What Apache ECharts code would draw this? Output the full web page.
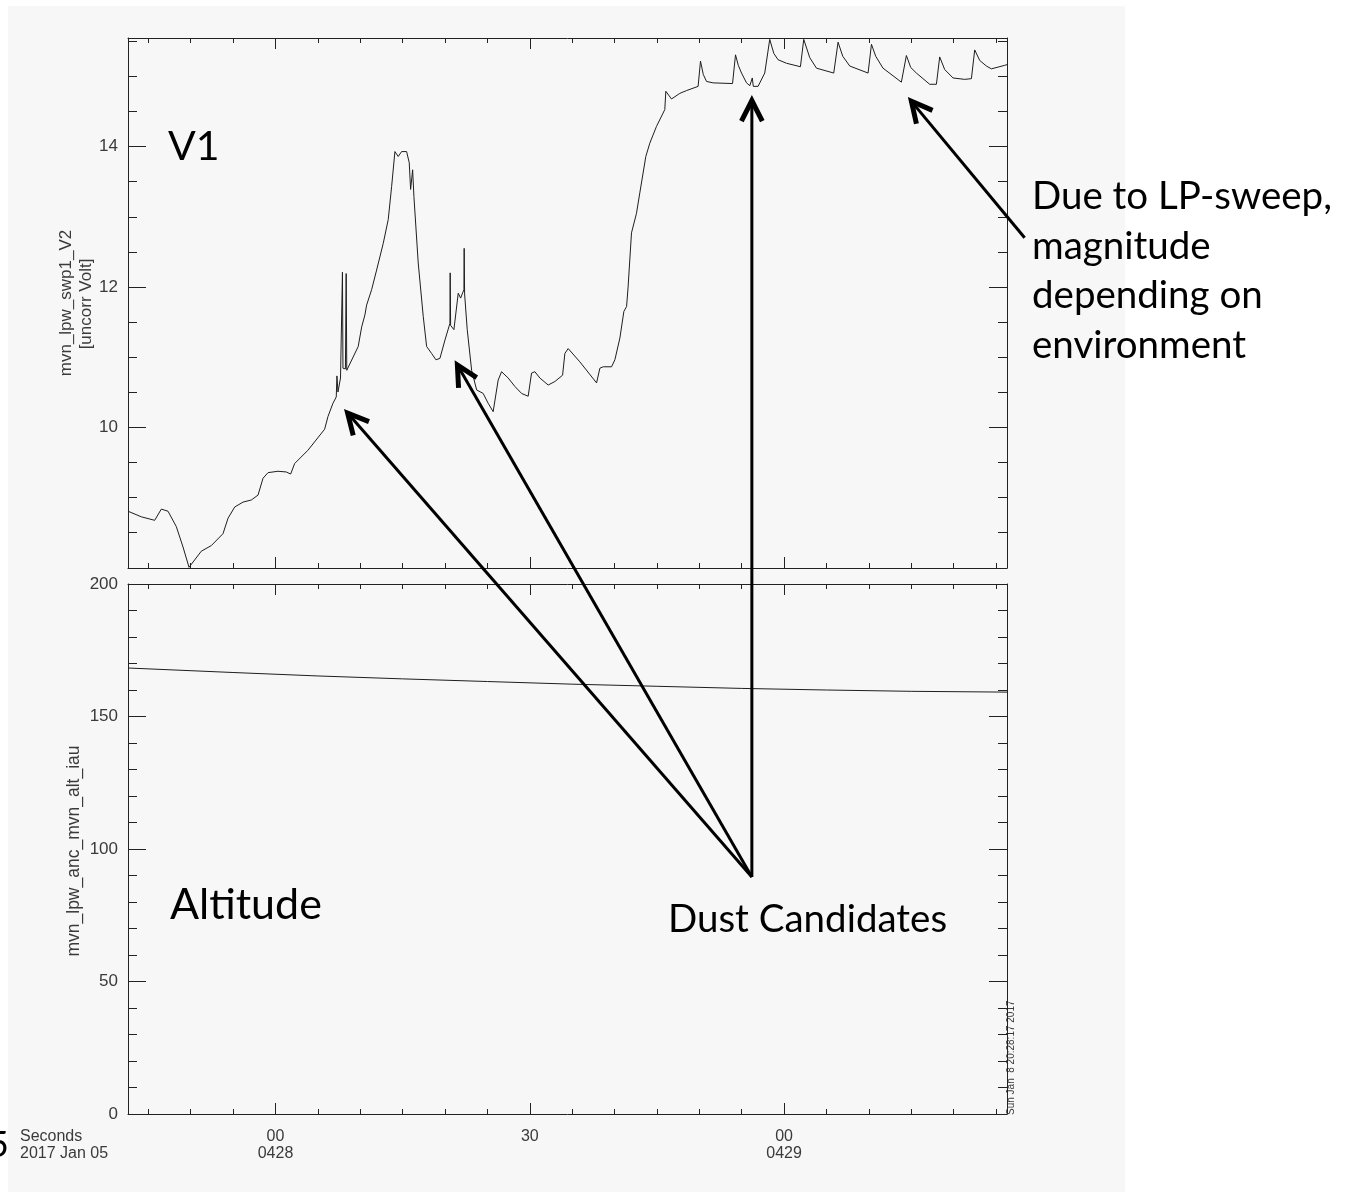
<!DOCTYPE html>
<html><head><meta charset="utf-8">
<script src="https://cdn.jsdelivr.net/npm/echarts@6/dist/echarts.min.js"></script>
<style>html,body{margin:0;padding:0;background:#fff;} #c{width:1345px;height:1192px;}</style>
</head><body><div id="c"></div>
<script>
// x = seconds after 2017-01-05 04:27:00 UT
const xMin = 42.6, xMax = 146.3;
const xMajorTicks = [60, 90, 120];
const xMajorLabels = ['00\n0428', '30', '00\n0429'];
const xMinorTicks = [45,50,55,65,70,75,80,85,95,100,105,110,115,125,130,135,140,145];

// Panel 1: mvn_lpw_swp1_V2 [uncorr Volt]
const v1Min = 7.99, v1Max = 15.55;
const v1Ticks = [10, 12, 14];
const v1Minor = [8.5,9,9.5,10.5,11,11.5,12.5,13,13.5,14.5,15,15.5];
const v1Time = [42.6,44.17,45.75,46.53,47.32,48.30,49.09,49.80,51.25,52.43,53.81,54.40,55.19,56.17,57.15,57.94,58.53,59.12,60.29,61.27,61.79,62.26,63.83,65.80,66.19,66.78,67.17,67.25,67.37,67.67,67.90,67.96,68.25,68.34,68.41,68.58,69.76,70.17,70.55,70.75,71.34,71.93,72.71,73.30,73.70,74.09,74.48,74.88,75.47,75.78,75.94,76.18,76.33,76.84,77.43,77.83,78.42,78.93,79.40,79.99,80.58,80.61,80.66,81.05,81.56,81.84,82.23,82.26,82.31,82.62,83.14,83.73,84.50,85.09,85.68,86.27,86.67,87.45,88.24,89.03,89.81,90.21,90.60,91.19,92.17,92.96,93.87,94.14,94.53,95.91,97.88,98.27,98.66,99.65,100.04,100.63,101.10,101.42,101.60,102.00,102.59,102.98,103.69,104.16,104.95,105.73,105.93,106.05,106.72,107.70,108.49,109.86,110.14,110.47,110.85,111.63,113.92,114.27,114.60,114.98,115.57,115.96,116.25,116.37,116.93,117.72,118.31,118.79,119.29,120.28,121.93,122.32,123.03,123.82,125.86,126.37,126.92,127.75,129.91,130.31,130.81,131.67,133.84,134.43,134.94,135.61,137.18,137.97,138.36,138.95,139.93,141.31,142.10,142.49,143.08,143.87,144.46,146.03,146.3];
const v1Volt = [8.80,8.72,8.67,8.83,8.80,8.58,8.29,8.00,8.23,8.31,8.48,8.70,8.86,8.93,8.96,9.03,9.27,9.35,9.37,9.36,9.33,9.48,9.67,9.97,10.15,10.34,10.43,10.73,10.50,10.70,12.21,10.84,10.83,12.19,10.81,10.79,11.15,11.43,11.60,11.74,11.96,12.24,12.62,12.96,13.43,13.93,13.86,13.93,13.93,13.77,13.39,13.67,13.29,12.34,11.58,11.15,11.05,10.96,10.98,11.24,11.48,12.20,11.45,11.39,11.91,11.84,11.96,12.55,11.90,11.39,10.81,10.53,10.48,10.34,10.22,10.67,10.79,10.70,10.58,10.48,10.44,10.77,10.79,10.70,10.60,10.65,10.74,11.05,11.12,10.93,10.63,10.84,10.86,10.86,10.96,11.27,11.65,11.72,12.00,12.77,13.05,13.34,13.86,14.05,14.29,14.48,14.53,14.79,14.68,14.76,14.80,14.86,15.22,15.03,14.93,14.91,14.90,15.31,15.16,15.05,14.91,14.87,14.98,14.86,14.86,15.05,15.53,15.33,15.24,15.19,15.14,15.53,15.27,15.12,15.05,15.49,15.29,15.15,15.05,15.46,15.29,15.12,14.92,15.30,15.13,15.05,14.89,14.89,15.28,15.10,14.98,14.96,14.97,15.38,15.23,15.15,15.11,15.16,15.17];

// Panel 2: mvn_lpw_anc_mvn_alt_iau
const altMin = 0, altMax = 200;
const altTicks = [0, 50, 100, 150, 200];
const altMinor = [10,20,30,40,60,70,80,90,110,120,130,140,160,170,180,190];
const altTime = [42.6,55,65,75,85,95,105,115,125,135,146.3];
const altKm = [168.3,166.6,165.3,164.2,163.2,162.2,161.4,160.6,160.0,159.5,159.2];

const AX = '#222', LBL = '#3a3a3a';
const grids = [
  {left:128, top:38, width:879, height:530, show:false},
  {left:128, top:584, width:879, height:530, show:false}
];

function xAxesFor(g, showLabels) {
  const base = (pos, ticks, len, line) => ({
    type:'value', gridIndex:g, position:pos, min:xMin, max:xMax,
    splitLine:{show:false},
    axisLine:{show:line, onZero:false, lineStyle:{color:AX, width:1}},
    axisTick:{show:true, inside:true, length:len, customValues:ticks, lineStyle:{color:AX, width:1}},
    axisLabel:{show:false}
  });
  const a = base('bottom', xMajorTicks, 11, true);
  if (showLabels) {
    a.axisLabel = {show:true, customValues:xMajorTicks, margin:14,
      formatter:v => xMajorLabels[xMajorTicks.indexOf(v)],
      color:LBL, fontSize:16, lineHeight:17, fontFamily:'Liberation Sans'};
  }
  return [a, base('bottom', xMinorTicks, 5, false), base('top', xMajorTicks, 11, true), base('top', xMinorTicks, 5, false)];
}
function yAxesFor(g, mn, mx, major, minor) {
  const base = (pos, ticks, len, line) => ({
    type:'value', gridIndex:g, position:pos, min:mn, max:mx,
    splitLine:{show:false},
    axisLine:{show:line, onZero:false, lineStyle:{color:AX, width:1}},
    axisTick:{show:true, inside:true, length:len, customValues:ticks, lineStyle:{color:AX, width:1}},
    axisLabel:{show:false}
  });
  const a = base('left', major, 18, true);
  a.axisLabel = {show:true, customValues:major, margin:10, color:LBL, fontSize:17, fontFamily:'Liberation Sans'};
  return [a, base('left', minor, 9, false), base('right', major, 18, true), base('right', minor, 9, false)];
}

const chart = echarts.init(document.getElementById('c'), null, {renderer:'canvas'});
chart.setOption({
  animation:false,
  backgroundColor:'#ffffff',
  grid:grids,
  xAxis:[...xAxesFor(0,false), ...xAxesFor(1,true)],
  yAxis:[...yAxesFor(0,v1Min,v1Max,v1Ticks,v1Minor), ...yAxesFor(1,altMin,altMax,altTicks,altMinor)],
  series:[
    {type:'line', xAxisIndex:0, yAxisIndex:0, symbol:'none', clip:true,
     data:v1Time.map((t,i)=>[t, v1Volt[i]]), lineStyle:{color:'#1e1e1e', width:1}},
    {type:'line', xAxisIndex:4, yAxisIndex:4, symbol:'none', clip:true,
     data:altTime.map((t,i)=>[t, altKm[i]]), lineStyle:{color:'#1e1e1e', width:1}}
  ]
});

// Annotation arrows (data coordinates)
const dustOrigin = [116.2, 89.4];           // in altitude panel
const dustTips = [[68.51,10.20],[81.46,10.886],[116.2,14.657]]; // in V1 panel
const sweepTail = [148.38, 12.70], sweepTip = [135.02, 14.647];

function P(si, v){ return chart.convertToPixel({seriesIndex:si}, v); }
function arrow(from, to) {
  const dx = to[0]-from[0], dy = to[1]-from[1];
  const L = Math.hypot(dx,dy), ux = dx/L, uy = dy/L;
  const hl = 23, ang = 27*Math.PI/180;
  const c = Math.cos(ang), s = Math.sin(ang);
  const w1 = [to[0] - hl*(ux*c - uy*s), to[1] - hl*(uy*c + ux*s)];
  const w2 = [to[0] - hl*(ux*c + uy*s), to[1] - hl*(uy*c - ux*s)];
  return [
    {type:'line', z:50, shape:{x1:from[0], y1:from[1], x2:to[0]-ux*2, y2:to[1]-uy*2}, style:{stroke:'#000', lineWidth:3}},
    {type:'polyline', z:50, shape:{points:[w1, to, w2]}, style:{stroke:'#000', lineWidth:5, fill:null, lineJoin:'miter'}}
  ];
}
const o = P(1, dustOrigin);
let g = [
  {type:'rect', z:-100, shape:{x:8, y:6, width:1117, height:1186}, style:{fill:'#f7f7f7'}},
  {type:'text', x:168, y:147, style:{text:'V1', font:'41px Lato', fill:'#000', verticalAlign:'middle'}},
  {type:'text', x:170, y:905, style:{text:'Altitude', font:'43px Lato', fill:'#000', verticalAlign:'middle'}},
  {type:'text', x:668, y:920, style:{text:'Dust Candidates', font:'38.5px Lato', fill:'#000', verticalAlign:'middle'}},
  {type:'text', x:1032, y:172, style:{text:'Due to LP-sweep,\nmagnitude\ndepending on\nenvironment', font:'38.5px Lato', lineHeight:49.5, fill:'#000', verticalAlign:'top'}},
  {type:'text', x:66, y:303, rotation:Math.PI/2, style:{text:'mvn_lpw_swp1_V2', font:'17px "Liberation Sans"', fill:LBL, align:'center', verticalAlign:'middle'}},
  {type:'text', x:86, y:304, rotation:Math.PI/2, style:{text:'[uncorr Volt]', font:'17px "Liberation Sans"', fill:LBL, align:'center', verticalAlign:'middle'}},
  {type:'text', x:74, y:851, rotation:Math.PI/2, style:{text:'mvn_lpw_anc_mvn_alt_iau', font:'17.5px "Liberation Sans"', fill:LBL, align:'center', verticalAlign:'middle'}},
  {type:'text', x:20, y:1128, style:{text:'Seconds\n2017 Jan 05', font:'16px "Liberation Sans"', lineHeight:17, fill:LBL, verticalAlign:'top'}},
  {type:'text', x:1011, y:1115, rotation:Math.PI/2, style:{text:'Sun Jan  8 20:28:17 2017', font:'10px "Liberation Sans"', fill:LBL, align:'left', verticalAlign:'middle'}},
  {type:'text', x:-12, y:1145, style:{text:'5', font:'36px Lato', fill:'#000', verticalAlign:'middle'}}
];
dustTips.forEach(t => { g = g.concat(arrow(o, P(0, t))); });
g = g.concat(arrow(P(0, sweepTail), P(0, sweepTip)));
chart.setOption({graphic:{elements:g}});
</script>
</body></html>
